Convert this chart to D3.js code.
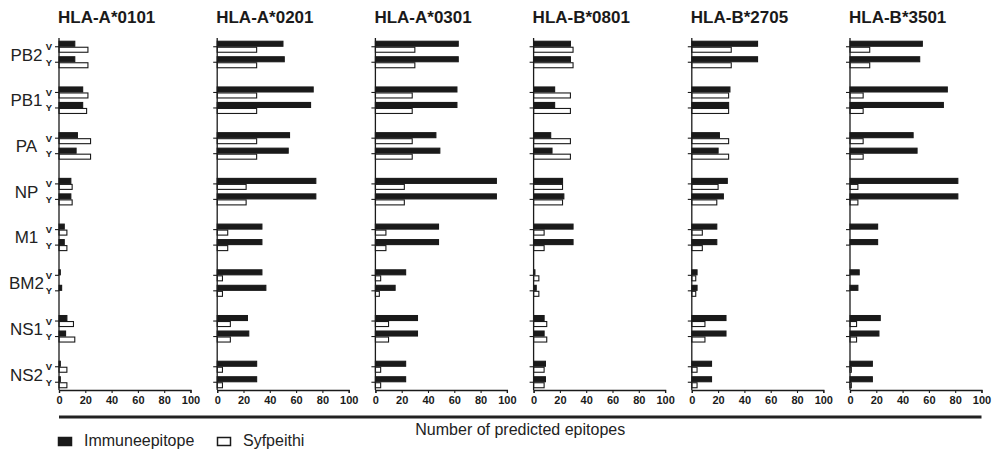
<!DOCTYPE html>
<html>
<head>
<meta charset="utf-8">
<script src="https://cdn.jsdelivr.net/npm/d3@7/dist/d3.min.js"></script>
<style>
  html, body { margin: 0; padding: 0; background: #fff; }
  svg { display: block; font-family: "Liberation Sans", Arial, sans-serif; }
</style>
</head>
<body>
<svg id="chart" width="998" height="452"></svg>
<script>
// HLA alleles, one panel each
const alleles = ["HLA-A*0101", "HLA-A*0201", "HLA-A*0301", "HLA-B*0801", "HLA-B*2705", "HLA-B*3501"];
// Influenza proteins and the two strains (V, Y) per protein
const proteins = ["PB2", "PB1", "PA", "NP", "M1", "BM2", "NS1", "NS2"];
const strains = ["V", "Y"];
const predictors = ["Immuneepitope", "Syfpeithi"];
const xTicks = [0, 20, 40, 60, 80, 100];

// Predicted epitope counts, ordered protein by protein as V, Y
const immuneA0101 = [12, 12, 18, 18, 14, 13, 9, 9, 4, 4, 1, 2, 6, 5, 1, 1];
const syfA0101    = [22, 22, 22, 21, 24, 24, 10, 10, 6, 6, 0, 0, 11, 12, 6, 6];
const immuneA0201 = [50, 51, 73, 71, 55, 54, 75, 75, 34, 34, 34, 37, 23, 24, 30, 30];
const syfA0201    = [30, 30, 30, 30, 30, 30, 22, 22, 8, 8, 4, 4, 10, 10, 4, 4];
const immuneA0301 = [63, 63, 62, 62, 46, 49, 92, 92, 48, 48, 23, 15, 32, 32, 23, 23];
const syfA0301    = [30, 30, 28, 28, 28, 28, 22, 22, 8, 8, 4, 3, 10, 10, 4, 4];
const immuneB0801 = [28, 28, 16, 16, 13, 14, 22, 23, 30, 30, 1, 2, 8, 8, 9, 9];
const syfB0801    = [30, 30, 28, 28, 28, 28, 22, 22, 8, 8, 4, 4, 10, 10, 8, 8];
const immuneB2705 = [50, 50, 29, 28, 21, 20, 27, 24, 19, 19, 4, 4, 26, 26, 15, 15];
const syfB2705    = [30, 30, 28, 28, 28, 28, 20, 19, 8, 8, 3, 3, 10, 10, 4, 4];
const immuneB3501 = [55, 53, 74, 71, 48, 51, 82, 82, 21, 21, 7, 6, 23, 22, 17, 17];
const syfB3501    = [15, 15, 10, 10, 10, 10, 6, 6, 0, 0, 0, 0, 5, 5, 1, 1];

const immuneSets = [immuneA0101, immuneA0201, immuneA0301, immuneB0801, immuneB2705, immuneB3501];
const syfSets = [syfA0101, syfA0201, syfA0301, syfB0801, syfB2705, syfB3501];

const ink = "#1a1a1a";
const svg = d3.select("#chart");

// Panel placement
const panelX = d3.scalePoint().domain(alleles).range([59, 850]);
const panelW = 131.5;
const axisTop = 38, axisBottom = 390;

const x = d3.scaleLinear().domain([0, 100]).range([0, panelW]);
const yProtein = d3.scalePoint().domain(proteins).range([54.5, 374.5]);
const yStrain = d3.scalePoint().domain(strains).range([-7.75, 7.75]);
const yPred = d3.scaleBand().domain(predictors).range([-6, 6]).paddingInner(0);

const rowKeys = proteins.flatMap(p => strains.map(s => ({ p, s })));

alleles.forEach((allele, i) => {
  const g = svg.append("g").attr("transform", `translate(${panelX(allele)},0)`);

  // title
  g.append("text")
    .attr("x", -1).attr("y", 23)
    .attr("font-size", 17).attr("font-weight", "bold").attr("fill", ink)
    .text(allele);

  const rows = rowKeys.map((k, j) => ({
    ...k,
    vals: { Immuneepitope: immuneSets[i][j], Syfpeithi: syfSets[i][j] }
  }));

  // bars
  rows.forEach(r => {
    const c = yProtein(r.p) + yStrain(r.s);
    predictors.forEach(pr => {
      const v = r.vals[pr];
      if (v <= 0) return;
      g.append("rect")
        .attr("x", x(0))
        .attr("y", c + yPred(pr) + 0.5)
        .attr("width", x(v))
        .attr("height", yPred.bandwidth() - 1)
        .attr("fill", pr === "Immuneepitope" ? ink : "#fff")
        .attr("stroke", ink)
        .attr("stroke-width", 1.1);
    });
  });

  // y axis with one tick per strain row
  g.append("line")
    .attr("x1", 0).attr("x2", 0).attr("y1", axisTop).attr("y2", axisBottom)
    .attr("stroke", ink).attr("stroke-width", 1.3);
  rows.forEach(r => {
    const c = yProtein(r.p) + yStrain(r.s);
    g.append("line")
      .attr("x1", -4).attr("x2", 0).attr("y1", c).attr("y2", c)
      .attr("stroke", ink).attr("stroke-width", 1.1);
    if (i === 0) {
      g.append("text")
        .attr("x", -7).attr("y", c + 3.5)
        .attr("text-anchor", "end")
        .attr("font-size", 9.5).attr("font-weight", "bold").attr("fill", ink)
        .text(r.s);
    }
  });
  if (i === 0) {
    proteins.forEach(p => {
      g.append("text")
        .attr("x", 26.5 - panelX(allele)).attr("y", yProtein(p) + 6)
        .attr("text-anchor", "middle")
        .attr("font-size", 17).attr("fill", "#222")
        .text(p);
    });
  }

  // x axis
  const xAxis = d3.axisBottom(x).tickValues(xTicks).tickSize(3).tickPadding(3);
  const ax = g.append("g").attr("transform", `translate(0,${axisBottom})`).call(xAxis);
  ax.select(".domain").attr("stroke", ink).attr("stroke-width", 1.3);
  ax.selectAll(".tick line").attr("stroke", ink).attr("stroke-width", 1.1);
  ax.selectAll(".tick text")
    .attr("font-size", 11).attr("font-weight", "bold").attr("fill", ink)
    .attr("font-family", "Liberation Sans, Arial, sans-serif");
});

// shared x axis bar and title
const leftEdge = panelX(alleles[0]);
const rightEdge = panelX(alleles[alleles.length - 1]) + panelW;
svg.append("line")
  .attr("x1", leftEdge).attr("x2", rightEdge).attr("y1", 417).attr("y2", 417)
  .attr("stroke", "#222").attr("stroke-width", 3);
svg.append("text")
  .attr("x", (leftEdge + rightEdge) / 2).attr("y", 435)
  .attr("text-anchor", "middle").attr("font-size", 16).attr("fill", "#222")
  .text("Number of predicted epitopes");

// legend
const legendX = [58, 217];
predictors.forEach((pr, k) => {
  const lg = svg.append("g").attr("transform", `translate(${legendX[k]},437)`);
  lg.append("rect")
    .attr("x", 0.5).attr("y", 0.5).attr("width", 13).attr("height", 8)
    .attr("fill", pr === "Immuneepitope" ? ink : "#fff")
    .attr("stroke", ink).attr("stroke-width", 1.5);
  lg.append("text")
    .attr("x", 26).attr("y", 9)
    .attr("font-size", 16).attr("fill", "#222")
    .text(pr);
});
</script>
</body>
</html>
